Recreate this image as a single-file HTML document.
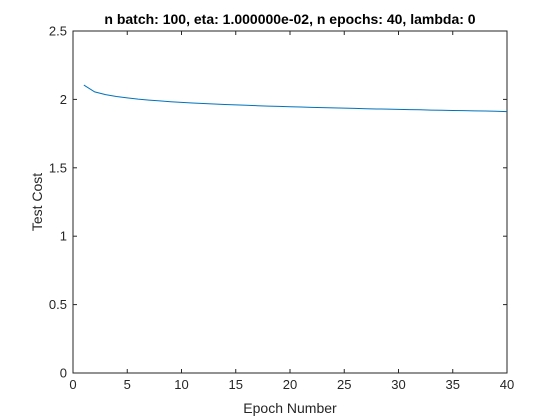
<!DOCTYPE html>
<html><head><meta charset="utf-8"><style>
html,body{margin:0;padding:0;background:#fff;}
svg{display:block;font-family:"Liberation Sans",Arial,sans-serif;}
</style></head><body>
<svg id="chart" width="560" height="420" viewBox="0 0 560 420" xmlns="http://www.w3.org/2000/svg">
<rect width="560" height="420" fill="#fff"/>
<g id="axes"></g>
</svg>
<script>
const epochs = [1,2,3,4,5,6,7,8,9,10,11,12,13,14,15,16,17,18,19,20,21,22,23,24,25,26,27,28,29,30,31,32,33,34,35,36,37,38,39,40];
const testCost = [2.105,2.055,2.035,2.021,2.011,2.002,1.995,1.989,1.983,1.978,1.974,1.970,1.966,1.963,1.960,1.957,1.954,1.951,1.949,1.946,1.944,1.942,1.940,1.938,1.936,1.934,1.932,1.930,1.929,1.927,1.925,1.924,1.922,1.921,1.919,1.918,1.916,1.915,1.913,1.911];
const xTicks = [0,5,10,15,20,25,30,35,40];
const yTicks = [0,0.5,1,1.5,2,2.5];
const yTickLabels = ["0","0.5","1","1.5","2","2.5"];

const L=73,R=507,T=31,B=373;
const xMin=0,xMax=40,yMin=0,yMax=2.5;
const sx=v=>L+(v-xMin)/(xMax-xMin)*(R-L);
const sy=v=>B-(v-yMin)/(yMax-yMin)*(B-T);
const NS="http://www.w3.org/2000/svg";
const g=document.getElementById('axes');
function mk(tag,attrs,parent){const e=document.createElementNS(NS,tag);for(const k in attrs)e.setAttribute(k,attrs[k]);(parent||g).appendChild(e);return e;}

const box=mk('rect',{x:L,y:T,width:R-L,height:B-T,fill:'#fff',stroke:'#262626','stroke-width':1});



xTicks.forEach(v=>{
  const x=sx(v);
  const t1=mk('line',{x1:x,x2:x,y1:B,y2:B-4,stroke:'#262626'});
  
  
  const t2=mk('line',{x1:x,x2:x,y1:T,y2:T+4,stroke:'#262626'});
  
  
  const lb=mk('text',{x:x,y:B+16,'text-anchor':'middle','font-size':13,fill:'#262626'});
  lb.textContent=String(v);
  
  
});
yTicks.forEach((v,i)=>{
  const y=sy(v);
  const t1=mk('line',{x1:L,x2:L+4,y1:y,y2:y,stroke:'#262626'});
  
  
  const t2=mk('line',{x1:R,x2:R-4,y1:y,y2:y,stroke:'#262626'});
  
  
  const lb=mk('text',{x:L-6,y:y+4.5,'text-anchor':'end','font-size':13,fill:'#262626'});
  lb.textContent=yTickLabels[i];
  
  
});

const d=epochs.map((e,i)=>(i?'L':'M')+sx(e).toFixed(2)+','+sy(testCost[i]).toFixed(2)).join(' ');
const line=mk('path',{d:d,fill:'none',stroke:'#0072bd','stroke-width':1});



const xt=mk('text',{x:(L+R)/2,y:413,'text-anchor':'middle','font-size':14,fill:'#262626'});
xt.textContent='Epoch Number';


const yt=mk('text',{x:0,y:0,'text-anchor':'middle','font-size':14,fill:'#262626',transform:`translate(42,${(T+B)/2}) rotate(-90)`});
yt.textContent='Test Cost';


const ti=mk('text',{x:(L+R)/2,y:24,'text-anchor':'middle','font-size':14,'font-weight':'bold',fill:'#000'});
ti.textContent='n batch: 100, eta: 1.000000e-02, n epochs: 40, lambda: 0';


</script>
</body></html>
